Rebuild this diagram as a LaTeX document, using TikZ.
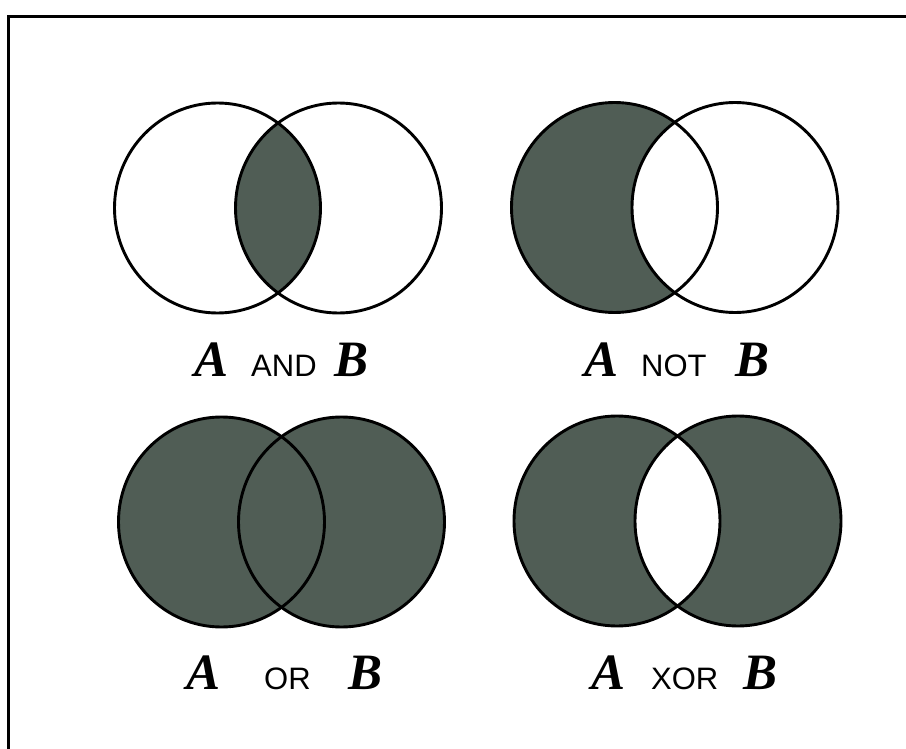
\documentclass[tikz,border=0pt]{standalone}
\usepackage{fontspec}
\setmainfont{Liberation Serif}
\newfontfamily\vennsans{Liberation Sans}
\definecolor{venngrey}{RGB}{80,93,85}
\newcommand\vennletter{\fontsize{51}{51}\selectfont\bfseries\itshape}
\newcommand\vennop{\fontsize{31}{31}\selectfont\vennsans}
\begin{document}
\begin{tikzpicture}[x=1pt,y=-1pt,
  outline/.style={draw=black,line width=2.9pt},
  shaded/.style={fill=venngrey},
  letter/.style={anchor=base west,inner sep=0pt,font=\vennletter},
  opword/.style={anchor=base west,inner sep=0pt,font=\vennop}]
\useasboundingbox (0,0) rectangle (906,749);
\fill[white] (0,0) rectangle (906,749);
% frame (top and left edges)
\coordinate (fbl) at (8.5,749);
\coordinate (ftl) at (8.5,16.5);
\coordinate (ftr) at (906,16.5);
\draw[line width=3.5pt] (fbl) -- (ftl) -- (ftr);
\def\rx{103pt}\def\ry{105pt}
% ---------- A AND B ----------
\coordinate (a1) at (217.5,208);
\coordinate (b1) at (338.5,208);
\begin{scope}
  \clip (a1) ellipse [x radius=\rx, y radius=\ry];
  \fill[shaded] (b1) ellipse [x radius=\rx, y radius=\ry];
\end{scope}
\draw[outline] (a1) ellipse [x radius=\rx, y radius=\ry];
\draw[outline] (b1) ellipse [x radius=\rx, y radius=\ry];
\node[letter] (la1) at (194,376) {A};
\node[opword] (op1) at (251,376) {AND};
\node[letter] (lb1) at (334,376) {B};
% ---------- A NOT B ----------
\coordinate (a2) at (614.5,207.5);
\coordinate (b2) at (735,207.5);
\fill[shaded] (a2) ellipse [x radius=\rx, y radius=\ry];
\begin{scope}
  \clip (a2) ellipse [x radius=\rx, y radius=\ry];
  \fill[white] (b2) ellipse [x radius=\rx, y radius=\ry];
\end{scope}
\draw[outline] (a2) ellipse [x radius=\rx, y radius=\ry];
\draw[outline] (b2) ellipse [x radius=\rx, y radius=\ry];
\node[letter] (la2) at (584,376) {A};
\node[opword] (op2) at (641,376) {NOT};
\node[letter] (lb2) at (735,376) {B};
% ---------- A OR B ----------
\coordinate (a3) at (221.5,522);
\coordinate (b3) at (341.5,522);
\fill[shaded] (a3) ellipse [x radius=\rx, y radius=\ry];
\fill[shaded] (b3) ellipse [x radius=\rx, y radius=\ry];
\draw[outline] (a3) ellipse [x radius=\rx, y radius=\ry];
\draw[outline] (b3) ellipse [x radius=\rx, y radius=\ry];
\node[letter] (la3) at (186,689) {A};
\node[opword] (op3) at (264,689) {OR};
\node[letter] (lb3) at (348,689) {B};
% ---------- A XOR B ----------
\coordinate (a4) at (617,521);
\coordinate (b4) at (738,521);
\fill[shaded,even odd rule] (a4) ellipse [x radius=\rx, y radius=\ry]
  (b4) ellipse [x radius=\rx, y radius=\ry];
\draw[outline] (a4) ellipse [x radius=\rx, y radius=\ry];
\draw[outline] (b4) ellipse [x radius=\rx, y radius=\ry];
\node[letter] (la4) at (591,689) {A};
\node[opword] (op4) at (651,689) {XOR};
\node[letter] (lb4) at (743,689) {B};
\end{tikzpicture}
\end{document}
